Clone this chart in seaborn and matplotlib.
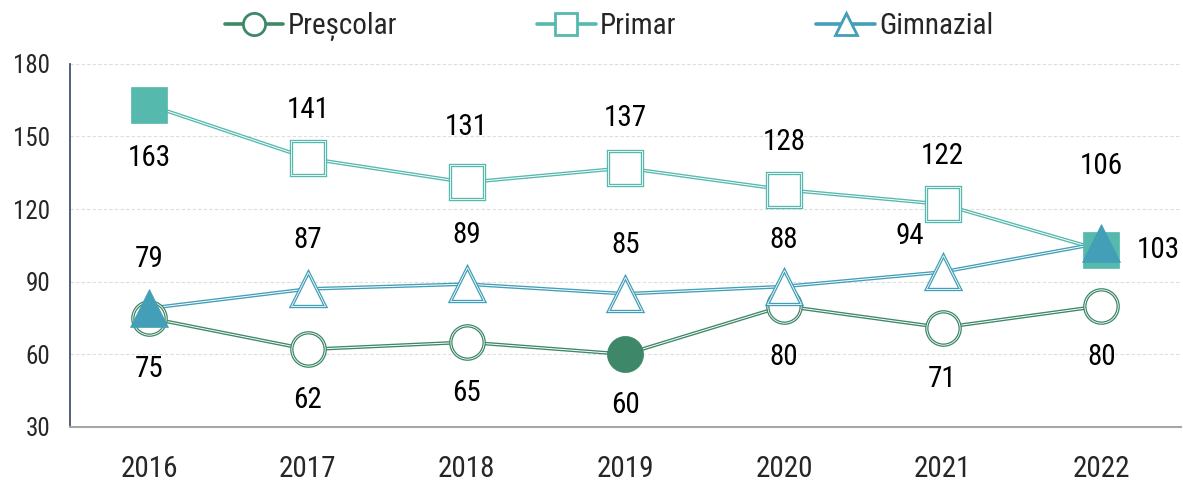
import matplotlib
matplotlib.use("Agg")
import matplotlib.pyplot as plt
from matplotlib import font_manager
from matplotlib.lines import Line2D
import seaborn as sns
import pandas as pd

years = ["2016", "2017", "2018", "2019", "2020", "2021", "2022"]
prescolar = [75, 62, 65, 60, 80, 71, 80]
primar = [163, 141, 131, 137, 128, 122, 103]
gimnazial = [79, 87, 89, 85, 88, 94, 106]
series_names = ["Preșcolar", "Primar", "Gimnazial"]
y_ticks = [30, 60, 90, 120, 150, 180]

sns.set_theme(style="white")
avail = {f.name for f in font_manager.fontManager.ttflist}
fam = "DejaVu Sans"
for cand in ["Liberation Sans Narrow", "Roboto Condensed", "Open Sans Condensed", "DejaVu Sans"]:
    if cand in avail:
        fam = cand
        break
plt.rcParams['font.family'] = [fam, 'DejaVu Sans']
stretch = "condensed" if fam == "DejaVu Sans" else "normal"

colors = ["#3E8768", "#55B9AD", "#429FB7"]
markers = ["o", "s", "^"]
data = [prescolar, primar, gimnazial]
# which points are drawn with a filled marker
filled = [[False, False, False, True, False, False, False],
          [True, False, False, False, False, False, True],
          [True, False, False, False, False, False, True]]
# label offsets in pixels (dx, dy)
offs = [[(0, -51)] * 7,
        [(0, -53), (0, 48), (0, 55), (0, 50), (0, 48), (0, 48), (57, 0)],
        [(0, 49), (0, 49), (0, 49), (0, 49), (0, 47), (-33, 36), (0, 77)]]

fig = plt.figure(figsize=(11.83, 4.84), dpi=100)
ax = fig.add_axes([0.059, 0.118, 0.939, 0.750])

xs = list(range(len(years)))
for i, (name, vals) in enumerate(zip(series_names, data)):
    df = pd.DataFrame({"x": xs, "y": vals})
    sns.lineplot(data=df, x="x", y="y", ax=ax, color=colors[i], lw=2.6, zorder=3 + i)
    sns.lineplot(data=df, x="x", y="y", ax=ax, color="white", lw=0.7, zorder=3 + i)
    ms = 24 if markers[i] != "^" else 25
    for j, v in enumerate(vals):
        if filled[i][j]:
            ax.plot(j, v, marker=markers[i], ms=ms + 2, mfc=colors[i], mec=colors[i],
                    mew=0.5, ls="none", zorder=10 + i)
        else:
            ax.plot(j, v, marker=markers[i], ms=ms, mfc="white", mec=colors[i],
                    mew=2.4, ls="none", zorder=10 + i)
            ax.plot(j, v, marker=markers[i], ms=ms, mfc="none", mec="white",
                    mew=0.6, ls="none", zorder=10 + i)
        dx, dy = offs[i][j]
        ax.annotate(str(v), (j, v), xytext=(dx, dy), textcoords="offset pixels",
                    ha="center", va="center", fontsize=21, color="black",
                    fontstretch=stretch, zorder=20)

ax.set_xlim(-0.5, len(years) - 0.5)
ax.set_ylim(30, 180)
ax.set_yticks(y_ticks)
ax.set_yticklabels([str(t) for t in y_ticks], fontsize=18, fontstretch=stretch)
ax.set_xticks(xs)
ax.set_xticklabels(years, fontsize=21, fontstretch=stretch)
ax.set_xticks([x - 0.5 for x in range(len(years) + 1)], minor=True)
ax.tick_params(axis="x", which="major", length=0, pad=20)
ax.tick_params(axis="x", which="minor", length=9, width=1.2, color="#A6A6A6", direction="out")
ax.tick_params(axis="y", which="major", length=6, width=1.2, color="#44546A", direction="out", pad=8)
ax.set_xlabel("")
ax.set_ylabel("")
for s in ["top", "right"]:
    ax.spines[s].set_visible(False)
ax.spines["left"].set_color("#44546A")
ax.spines["left"].set_linewidth(1.3)
ax.spines["bottom"].set_color("#A6A6A6")
ax.spines["bottom"].set_linewidth(1.5)
ax.yaxis.grid(True, color="#DDDDDD", ls=(0, (3, 2)), lw=0.8)
ax.set_axisbelow(True)

handles = []
for i in range(3):
    handles.append(Line2D([0], [0], color=colors[i], lw=2.6, marker=markers[i], ms=16,
                          mfc="white", mec=colors[i], mew=2))
leg = fig.legend(handles, series_names, loc="center", bbox_to_anchor=(0.515, 0.945), ncol=3,
                 frameon=False, fontsize=21, columnspacing=4.8, handlelength=2.0, handletextpad=0.15)
for t in leg.get_texts():
    t.set_fontstretch(stretch)

fig.savefig("out.png", dpi=100)
